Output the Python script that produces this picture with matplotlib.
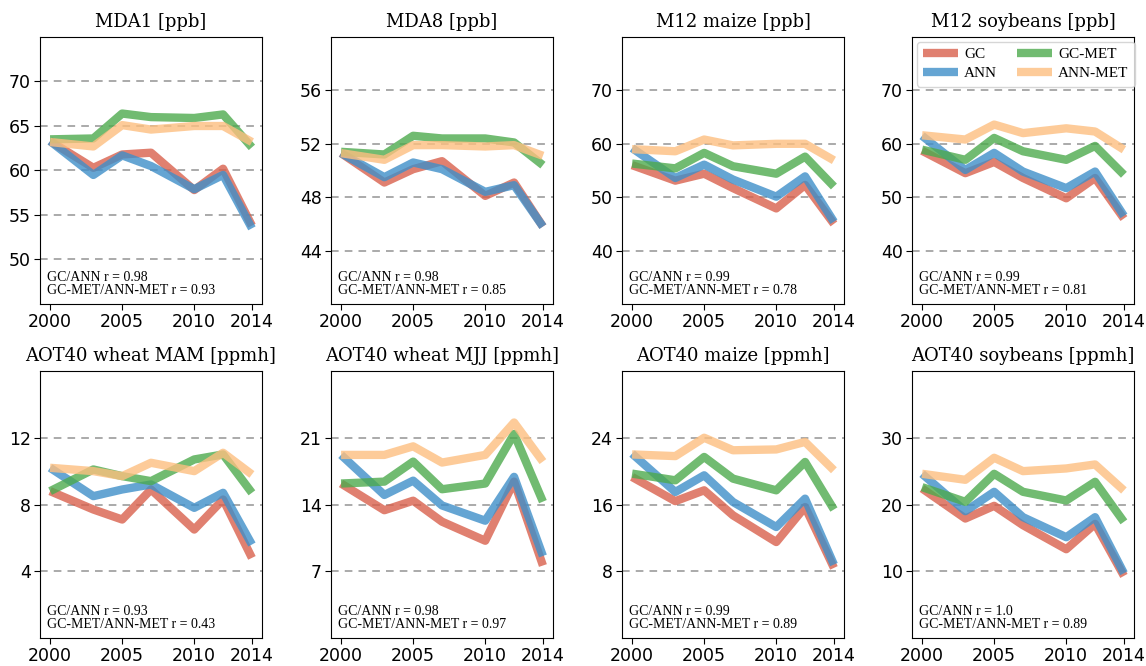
import matplotlib
matplotlib.use("Agg")
import matplotlib.pyplot as plt

years = [2000, 2003, 2005, 2007, 2010, 2012, 2014]

titles = ["MDA1 [ppb]", "MDA8 [ppb]", "M12 maize [ppb]", "M12 soybeans [ppb]",
          "AOT40 wheat MAM [ppmh]", "AOT40 wheat MJJ [ppmh]", "AOT40 maize [ppmh]",
          "AOT40 soybeans [ppmh]"]

gc = [
    [63.3, 60.3, 61.8, 62.0, 57.8, 60.2, 53.8],
    [51.3, 49.1, 50.1, 50.7, 48.1, 49.1, 45.8],
    [56.0, 53.1, 54.4, 51.7, 47.9, 52.3, 45.0],
    [58.7, 54.5, 56.6, 53.6, 49.8, 53.6, 46.0],
    [8.8, 7.7, 7.1, 8.9, 6.5, 8.3, 4.8],
    [16.2, 13.4, 14.4, 12.2, 10.2, 16.4, 7.6],
    [19.3, 16.4, 17.7, 14.7, 11.5, 15.7, 8.4],
    [22.4, 17.9, 19.8, 16.9, 13.3, 17.1, 9.3],
]
ann = [
    [63.3, 59.5, 61.7, 60.5, 57.9, 59.5, 53.5],
    [51.3, 49.5, 50.6, 50.1, 48.4, 48.9, 45.8],
    [59.2, 53.6, 56.1, 53.3, 50.1, 53.9, 45.4],
    [61.5, 55.1, 58.3, 54.8, 51.7, 54.8, 46.5],
    [10.2, 8.5, 8.9, 9.2, 7.8, 8.7, 5.6],
    [19.2, 15.0, 16.5, 13.9, 12.3, 16.9, 8.6],
    [22.1, 17.5, 19.5, 16.3, 13.3, 16.7, 8.8],
    [24.6, 19.0, 21.9, 18.1, 15.1, 18.1, 9.7],
]
gcmet = [
    [63.5, 63.6, 66.4, 66.0, 65.9, 66.3, 62.6],
    [51.4, 51.2, 52.6, 52.4, 52.4, 52.1, 50.4],
    [56.3, 55.4, 58.3, 55.8, 54.4, 57.6, 52.0],
    [58.9, 57.0, 61.1, 58.6, 57.0, 59.6, 54.2],
    [8.8, 10.1, 9.7, 9.4, 10.7, 11.0, 8.7],
    [16.2, 16.4, 18.5, 15.6, 16.2, 21.4, 14.3],
    [19.7, 18.9, 21.7, 19.1, 17.7, 21.1, 15.4],
    [22.6, 20.4, 24.6, 21.9, 20.6, 23.4, 17.4],
]
annmet = [
    [63.2, 62.7, 65.1, 64.6, 65.0, 65.0, 63.2],
    [51.3, 50.8, 51.9, 51.9, 51.8, 51.9, 51.1],
    [59.0, 58.6, 60.8, 59.7, 60.0, 60.0, 56.9],
    [61.6, 60.8, 63.6, 62.0, 62.9, 62.3, 58.9],
    [10.2, 10.0, 9.7, 10.5, 10.0, 11.1, 9.8],
    [19.2, 19.2, 20.1, 18.4, 19.2, 22.6, 18.5],
    [22.0, 21.8, 24.0, 22.5, 22.6, 23.5, 20.1],
    [24.6, 23.7, 27.0, 25.0, 25.4, 26.0, 22.1],
]

r_gc_ann = ["0.98", "0.98", "0.99", "0.99", "0.93", "0.98", "0.99", "1.0"]
r_met = ["0.93", "0.85", "0.78", "0.81", "0.43", "0.97", "0.89", "0.89"]

ylims = [(45, 75), (40, 60), (30, 80), (30, 80), (0, 16), (0, 28), (0, 32), (0, 40)]
yticks = [[50, 55, 60, 65, 70], [44, 48, 52, 56], [40, 50, 60, 70], [40, 50, 60, 70],
          [4, 8, 12], [7, 14, 21], [8, 16, 24], [10, 20, 30]]
xticks = [2000, 2005, 2010, 2014]

series_names = ["GC", "ANN", "GC-MET", "ANN-MET"]
colors = ["#d9604c", "#3f8fc9", "#4daa4d", "#fdbf80"]

fig = plt.figure(figsize=(11.46, 6.66), dpi=100)
W, H = 1146, 666
lefts = [40, 331, 622, 912]
tops = [37, 371]
aw, ah = 222, 267

for i in range(8):
    r, c = divmod(i, 4)
    ax = fig.add_axes([lefts[c] / W, 1 - (tops[r] + ah) / H, aw / W, ah / H])
    data = [gc[i], ann[i], gcmet[i], annmet[i]]
    for k in range(4):
        ax.plot(years, data[k], color=colors[k], lw=6, alpha=0.8,
                label=series_names[k], solid_capstyle="butt")
    ax.set_ylim(*ylims[i])
    ax.set_xlim(1999.3, 2014.7)
    ax.set_yticks(yticks[i])
    ax.set_xticks(xticks)
    for yt in yticks[i]:
        ax.axhline(yt, color="gray", lw=1.1, ls=(0, (5, 4)), alpha=0.85, zorder=0)
    ax.tick_params(labelsize=12.5, length=4, pad=2.5)
    ax.set_title(titles[i], family="DejaVu Serif", fontsize=13, pad=7)
    ax.text(0.03, 0.025, f"GC/ANN r = {r_gc_ann[i]}\nGC-MET/ANN-MET r = {r_met[i]}",
            transform=ax.transAxes, family="Liberation Serif", fontsize=10,
            va="bottom", ha="left", linespacing=1.0)
    if i == 3:
        ax.legend(loc="upper left", ncol=2, prop={"family": "Liberation Serif", "size": 11},
                  handlelength=2.3, columnspacing=1.3, borderaxespad=0.3,
                  labelspacing=0.35, handletextpad=0.4, borderpad=0.4)

fig.savefig("out.png", dpi=100)
